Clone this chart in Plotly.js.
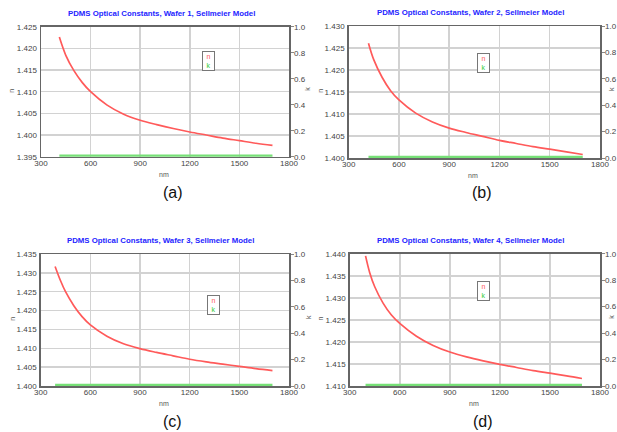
<!DOCTYPE html>
<html>
<head>
<meta charset="utf-8">
<script src="https://cdn.plot.ly/plotly-3.0.1.min.js"></script>
<style>html,body{margin:0;padding:0;background:#fff;}#chart{width:617px;height:432px;}</style>
</head>
<body>
<div id="chart"></div>
<script>
// ---- data ----
const panelLabels = ["(a)", "(b)", "(c)", "(d)"];
const panelTitles = [
  "PDMS Optical Constants, Wafer 1, Sellmeier Model",
  "PDMS Optical Constants, Wafer 2, Sellmeier Model",
  "PDMS Optical Constants, Wafer 3, Sellmeier Model",
  "PDMS Optical Constants, Wafer 4, Sellmeier Model"
];
const wlA = [411, 450, 500, 550, 600, 700, 800, 900, 1000, 1100, 1200, 1300, 1400, 1500, 1600, 1700];
const nA  = [1.4226, 1.4184, 1.4148, 1.4121, 1.4100, 1.4069, 1.4048, 1.4034, 1.4024, 1.4015, 1.4007, 1.4000, 1.3993, 1.3987, 1.3981, 1.3976];
const wlB = [418, 450, 500, 550, 600, 700, 800, 900, 1000, 1100, 1200, 1300, 1400, 1500, 1600, 1697];
const nB  = [1.4261, 1.4223, 1.4183, 1.4153, 1.4132, 1.4102, 1.4082, 1.4068, 1.4058, 1.4049, 1.4040, 1.4033, 1.4026, 1.4020, 1.4014, 1.4008];
const wlC = [387, 420, 450, 500, 550, 600, 700, 800, 900, 1000, 1100, 1200, 1300, 1400, 1500, 1600, 1700];
const nC  = [1.4317, 1.4279, 1.4250, 1.4213, 1.4184, 1.4162, 1.4132, 1.4112, 1.4099, 1.4089, 1.4080, 1.4071, 1.4064, 1.4058, 1.4052, 1.4046, 1.4041];
const wlD = [395, 420, 450, 500, 550, 600, 700, 800, 900, 1000, 1100, 1200, 1300, 1400, 1500, 1600, 1692];
const nD  = [1.4395, 1.4357, 1.4325, 1.4288, 1.4261, 1.4242, 1.4213, 1.4192, 1.4177, 1.4166, 1.4157, 1.4149, 1.4142, 1.4135, 1.4129, 1.4123, 1.4117];
const kWlA = [411, 1700], kA = [0, 0];
const kWlB = [418, 1697], kB = [0, 0];
const kWlC = [387, 1700], kC = [0, 0];
const kWlD = [395, 1692], kD = [0, 0];
const nRanges = [[1.395, 1.425], [1.400, 1.430], [1.400, 1.435], [1.410, 1.440]];
const kRange = [0, 1];
const xRange = [300, 1800];

const W = 617, H = 432;
const px = v => v / W;
const py = v => 1 - v / H;

// plot-area boxes in pixels [left, right, top, bottom]
const boxes = [[41, 289, 26.7, 156.7], [348.7, 600, 26, 158], [40.7, 289, 254, 386], [349.7, 600, 253.7, 386]];
const series = [[wlA, nA, kWlA, kA], [wlB, nB, kWlB, kB], [wlC, nC, kWlC, kC], [wlD, nD, kWlD, kD]];

const FONT = "Liberation Sans, Arial, sans-serif";
const nColor = "#ff5a5a", kColor = "#77e077";
const tickFont = {family: FONT, size: 8, color: "#444"};
const data = [];
const layout = {
  width: W, height: H,
  margin: {l: 0, r: 0, t: 0, b: 0},
  paper_bgcolor: "#fff", plot_bgcolor: "#fff",
  showlegend: false,
  annotations: []
};

function label(x, y, text, font, extra) {
  return Object.assign({xref: "paper", yref: "paper", x: px(x), y: py(y), text: text,
    showarrow: false, xanchor: "center", yanchor: "middle", font: font}, extra || {});
}

for (let i = 0; i < 4; i++) {
  const [l, r, t, b] = boxes[i];
  const xs = i === 0 ? "x" : "x" + (i + 1);
  const ys = i === 0 ? "y" : "y" + (i + 1);
  const ks = "y" + (i + 5);
  const [wl, n, kwl, k] = series[i];
  data.push({x: kwl, y: k, xaxis: xs, yaxis: ks, mode: "lines", line: {color: kColor, width: 4.5}, hoverinfo: "skip"});
  data.push({x: wl, y: n, xaxis: xs, yaxis: ys, mode: "lines", line: {color: nColor, width: 1.7, shape: "spline", smoothing: 1}, hoverinfo: "skip"});

  layout[i === 0 ? "xaxis" : "xaxis" + (i + 1)] = {
    domain: [px(l), px(r)], anchor: ys, range: xRange, dtick: 300, tick0: 300,
    showgrid: true, gridcolor: "#d2d2d2", gridwidth: 1.5,
    showline: true, linecolor: "#666", linewidth: 1.5, mirror: true,
    ticks: "", tickfont: tickFont, zeroline: false, layer: "below traces",
    ticklabelstandoff: -2
  };
  layout[i === 0 ? "yaxis" : "yaxis" + (i + 1)] = {
    domain: [py(b), py(t)], anchor: xs, range: nRanges[i], dtick: 0.005, tick0: 1.395,
    tickformat: ".3f",
    showgrid: true, gridcolor: "#d2d2d2", gridwidth: 1.5,
    showline: true, linecolor: "#666", linewidth: 1.5, mirror: true,
    ticks: "", tickfont: tickFont, zeroline: false, layer: "below traces",
    ticklabelstandoff: 1
  };
  layout["yaxis" + (i + 5)] = {
    overlaying: ys, anchor: xs, side: "right", range: kRange, dtick: 0.2, tick0: 0,
    tickformat: ".1f", showgrid: false, zeroline: false,
    showline: true, linecolor: "#666", linewidth: 1.5,
    ticks: "outside", ticklen: 3, tickcolor: "#888", tickfont: tickFont, layer: "below traces",
    ticklabelstandoff: -1
  };

  const cx = (l + r) / 2;
  layout.annotations.push(label(cx - 4, t - 13.5, panelTitles[i], {family: FONT, size: 7.8, color: "#2424ff", weight: "bold"}));
  layout.annotations.push(label(cx - 1, b + 17.5, "nm", {family: FONT, size: 7, color: "#555"}));
  layout.annotations.push(label(l - 29, (t + b) / 2 - 1, "n", {family: FONT, size: 7, color: "#555"}, {textangle: -90}));
  layout.annotations.push(label(i % 2 === 0 ? r + 19 : r + 12, (t + b) / 2 - 3, "k", {family: FONT, size: 7, color: "#555"}, {textangle: -90}));
  layout.annotations.push(label(cx + 8, i < 2 ? 192.5 : 421.5, panelLabels[i], {family: FONT, size: 16, color: "#111"}));
}

// legend boxes (n / k), positioned in data coordinates
const legendPos = [[1316, 1.4171], [1107, 1.4217], [1342, 1.4216], [1100, 1.4316]];
for (let i = 0; i < 4; i++) {
  layout.annotations.push({
    xref: i === 0 ? "x" : "x" + (i + 1), yref: i === 0 ? "y" : "y" + (i + 1),
    x: legendPos[i][0], y: legendPos[i][1], showarrow: false, xanchor: "center", yanchor: "middle",
    text: '<span style="color:' + nColor + '">n</span><br><span style="color:#33cc33">k</span>',
    font: {family: FONT, size: 7}, align: "center",
    bordercolor: "#777", borderwidth: 1, borderpad: 1, bgcolor: "#fff", width: 9, height: 16
  });
}

Plotly.newPlot("chart", data, layout, {staticPlot: true, displayModeBar: false});
</script>
</body>
</html>
